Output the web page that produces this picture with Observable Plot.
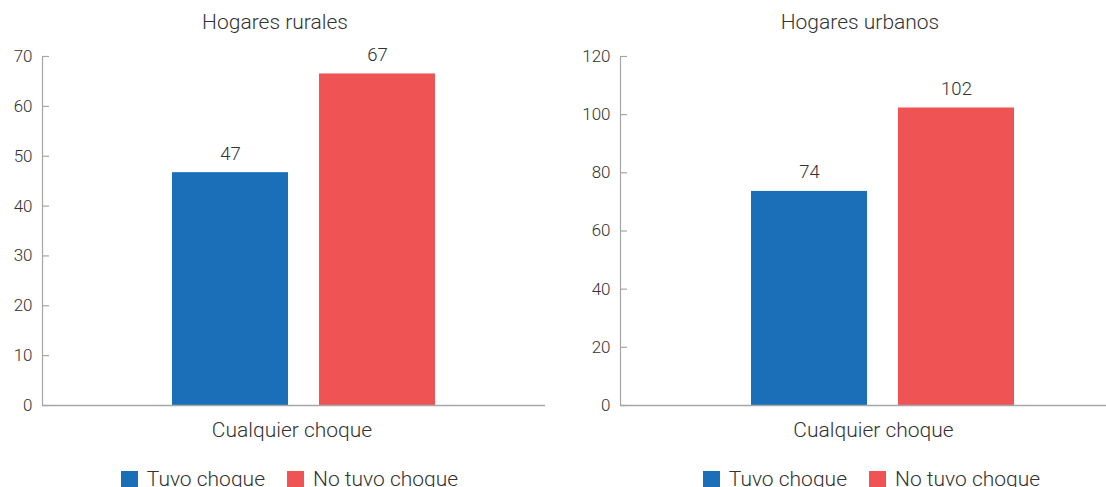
<!DOCTYPE html>
<html>
<head>
<meta charset="utf-8">
<script src="https://cdn.jsdelivr.net/npm/d3@7"></script>
<script src="https://cdn.jsdelivr.net/npm/@observablehq/plot@0.6"></script>
<style>
  html, body { margin: 0; padding: 0; background: #fff; }
  body { width: 1106px; height: 487px; overflow: hidden; display: flex; font-family: "Roboto Light", Roboto, sans-serif; font-weight: 300; color: #333; }
  .panel { width: 553px; position: relative; }
  .title { height: 40px; line-height: 44px; font-size: 21px; font-weight: 300; text-align: center; color: #333; box-sizing: border-box; }
</style>
</head>
<body>
<div class="panel" id="p1"></div>
<div class="panel" id="p2"></div>
<script>
const series = ["Tuvo choque", "No tuvo choque"];
const colors = ["#1b6fb8", "#f05354"];
const category = "Cualquier choque";
const titles = ["Hogares rurales", "Hogares urbanos"];
const ruralValues = [46.7, 66.5];
const urbanValues = [73.6, 102.3];
const ruralTicks = [0, 10, 20, 30, 40, 50, 60, 70];
const urbanTicks = [0, 20, 40, 60, 80, 100, 120];

const FONT = "'Roboto Light', Roboto, sans-serif";
const W = 553;

function panel(el, cfg) {
  const data = series.map((s, i) => ({series: s, value: cfg.values[i]}));
  const t = document.createElement("div");
  t.className = "title";
  t.style.paddingLeft = cfg.titlePadL + "px";
  t.style.paddingRight = cfg.titlePadR + "px";
  t.textContent = cfg.title;
  el.appendChild(t);

  const frameW = W - cfg.marginLeft - cfg.marginRight;
  const chart = Plot.plot({
    width: W,
    height: 410,
    marginTop: 16,
    marginBottom: 45,
    marginLeft: cfg.marginLeft,
    marginRight: cfg.marginRight,
    style: {fontFamily: FONT, fontSize: "17px", fontWeight: 300, color: "#333", background: "#fff"},
    x: {type: "band", domain: series, paddingInner: 0.21, paddingOuter: cfg.po, align: cfg.align, axis: null},
    y: {domain: [0, cfg.ticks[cfg.ticks.length - 1]], axis: null},
    color: {domain: series, range: colors},
    marks: [
      Plot.barY(data, {x: "series", y: "value", fill: "series"}),
      Plot.text(data, {x: "series", y: "value", text: d => String(Math.round(d.value)), lineAnchor: "bottom", dy: -13, fontSize: 18.5, fill: "#333"}),
      Plot.axisY({ticks: cfg.ticks, tickSize: 0, tickPadding: 10, tickFormat: d => String(d), fontSize: 17, fill: "#333", label: null}),
      Plot.ruleY(cfg.ticks, {y: d => d, insetRight: frameW - 7, stroke: "#a6a6a6", strokeWidth: 1.2}),
      Plot.frame({anchor: "left", stroke: "#a6a6a6", strokeWidth: 1.2}),
      Plot.ruleY([0], {stroke: "#a6a6a6", strokeWidth: 1.5}),
      Plot.text([category], {frameAnchor: "bottom", dy: 31, dx: cfg.labelDx, fontSize: 21, fill: "#333", text: d => d})
    ]
  });
  el.appendChild(chart);

  const leg = Plot.legend({color: {domain: series, range: colors, type: "categorical"}, swatchSize: 17});
  leg.style.fontFamily = FONT;
  leg.style.fontSize = "21px";
  leg.style.fontWeight = "300";
  leg.style.color = "#333";
  leg.style.justifyContent = "center";
  leg.style.marginTop = "17px";
  leg.style.position = "relative";
  leg.style.left = cfg.legShift + "px";
  leg.style.minHeight = "0";
  leg.style.lineHeight = "24px";
  el.appendChild(leg);
  leg.querySelectorAll("svg").forEach(s => { s.style.marginRight = "9px"; });
  leg.querySelectorAll("span").forEach(s => { s.style.marginRight = "22px"; });
}

panel(document.getElementById("p1"), {
  title: titles[0], values: ruralValues, ticks: ruralTicks,
  marginLeft: 42, marginRight: 8, po: 0.805, align: 0.54, labelDx: -2,
  titlePadL: 0, titlePadR: 3, legShift: 24
});
panel(document.getElementById("p2"), {
  title: titles[1], values: urbanValues, ticks: urbanTicks,
  marginLeft: 67, marginRight: 0, po: 0.747, align: 0.59, labelDx: 10,
  titlePadL: 61, titlePadR: 0, legShift: 53
});
</script>
</body>
</html>
